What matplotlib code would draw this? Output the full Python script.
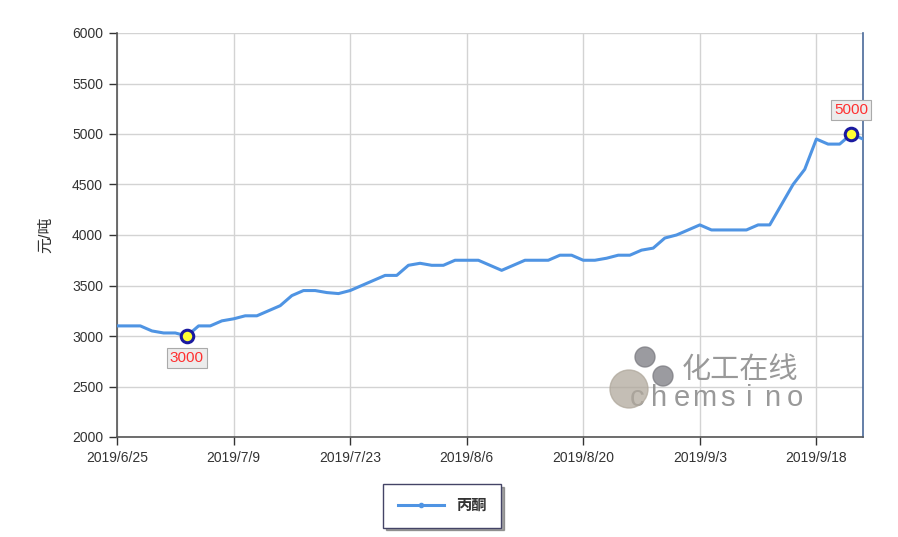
import pandas as pd
import numpy as np
import matplotlib.pyplot as plt
from matplotlib.patches import Ellipse
from matplotlib.lines import Line2D

############################## Data ############################################
# business days from 2019/6/25, 2019/9/13 (mid-autumn holiday) skipped
dates = [d for d in pd.bdate_range('2019-06-25', periods=66)
         if d != pd.Timestamp('2019-09-13')]
prices = [3100, 3100, 3100, 3050, 3030, 3030, 3000, 3100, 3100, 3150,
          3170, 3200, 3200, 3250, 3300, 3400, 3450, 3450, 3430, 3420,
          3450, 3500, 3550, 3600, 3600, 3700, 3720, 3700, 3700, 3750,
          3750, 3750, 3700, 3650, 3700, 3750, 3750, 3750, 3800, 3800,
          3750, 3750, 3770, 3800, 3800, 3850, 3870, 3970, 4000, 4050,
          4100, 4050, 4050, 4050, 4050, 4100, 4100, 4300, 4500, 4650,
          4950, 4900, 4900, 5000, 4950]
series_name = '丙酮'
y_label = '元/吨'

############################## Plot ############################################
plt.rcParams['font.family'] = ['Liberation Sans', 'Noto Sans CJK SC', 'DejaVu Sans']
line_color = '#4f94e3'

fig = plt.figure(figsize=(8.98, 5.37), dpi=100)
ax = fig.add_axes([117/898, 1-437/537, 746/898, 404/537])

x = np.arange(len(prices))
ax.plot(x, prices, color=line_color, lw=2.2, zorder=3)

# min / max markers with labels
i_min = int(np.argmin(prices))
i_max = int(np.argmax(prices))
for i, dy in [(i_min, -16), (i_max, 17)]:
    ax.plot(x[i], prices[i], 'o', ms=9, mfc='#ffff33', mec='#1a1aa0',
            mew=2.2, zorder=5)
    ax.annotate(str(prices[i]), (x[i], prices[i]), xytext=(0, dy),
                textcoords='offset points', ha='center', va='center',
                color='#ff3030', fontsize=11, zorder=6,
                bbox=dict(boxstyle='square,pad=0.2', fc='#ececec',
                          ec='#aaaaaa', lw=0.8))

# axes, ticks, grid
ax.set_xlim(0, len(prices) - 1)
ax.set_ylim(2000, 6000)
ax.set_yticks(range(2000, 6001, 500))
tick_idx = list(range(0, len(prices), 10))
ax.set_xticks(tick_idx)
ax.set_xticklabels([f'{dates[i].year}/{dates[i].month}/{dates[i].day}'
                    for i in tick_idx])
ax.tick_params(axis='both', labelsize=10, colors='#333333', length=6,
               width=1, direction='out', pad=4)
ax.grid(True, color='#d3d3d3', lw=1)
ax.set_axisbelow(True)
for s in ['left', 'bottom']:
    ax.spines[s].set_color('#555555')
    ax.spines[s].set_linewidth(1.2)
ax.spines['top'].set_visible(False)
ax.spines['right'].set_color('#4a6a9a')
ax.spines['right'].set_linewidth(1.2)
ax.set_ylabel(y_label, fontsize=11.5, color='#333333', labelpad=14)

handle = Line2D([], [], color=line_color, lw=2.2, marker='o', ms=3,
                markevery=[1])
leg = ax.legend([handle], [series_name], loc='center',
                bbox_to_anchor=(442/898, 1-506/537),
                bbox_transform=fig.transFigure, frameon=True, shadow=True,
                fancybox=False, handlelength=3.0, borderpad=0.95,
                borderaxespad=0, prop={'weight': 'bold', 'size': 11})
leg.get_frame().set_edgecolor('#444466')
leg.get_frame().set_linewidth(1)
for t in leg.get_texts():
    t.set_color('#333333')

# watermark
def circ(cx, cy, r, color):
    fig.add_artist(Ellipse((cx/898, 1-cy/537), 2*r/898, 2*r/537,
                           transform=fig.transFigure, color=color,
                           alpha=0.75, zorder=4))
circ(629, 389, 19, '#b0a89c')
circ(645, 357, 10, '#7a7a80')
circ(663, 376, 10, '#7a7a80')
fig.text(682/898, 1-370/537, '化工在线', fontsize=21, color='#8e8e8e',
         va='center', ha='left', family=['Noto Sans CJK SC'], alpha=0.9)
for k, ch in enumerate('chemsino'):
    fig.text((637 + k*22.5)/898, 1-398/537, ch, fontsize=21,
             color='#8e8e8e', va='center', ha='center', alpha=0.9)

plt.savefig('out.png', dpi=100)
